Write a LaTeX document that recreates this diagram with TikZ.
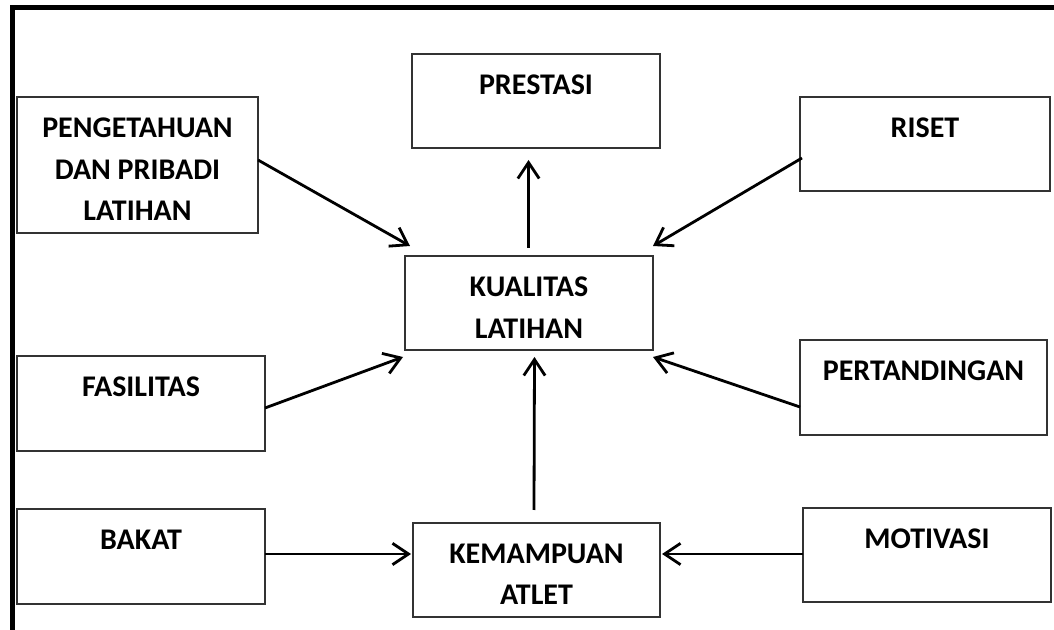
\documentclass[tikz,border=0pt]{standalone}
\usepackage{fontspec}
\setmainfont{Carlito}
\usetikzlibrary{arrows.meta,calc}
\begin{document}
\begin{tikzpicture}[x=0.75pt,y=-0.75pt,
  boxnode/.style={draw=black!80,line width=0.9pt,rectangle,inner sep=0pt,outer sep=0pt,anchor=north west},
  labeltext/.style={anchor=north,inner sep=0pt,outer sep=0pt,align=center,font=\fontsize{22.5}{31}\selectfont\bfseries},
  arr/.style={line width=2.1pt,-{Straight Barb[length=12pt,width=16pt,line width=2.1pt]}},
  frameline/.style={line width=3.4pt,line cap=rect}]
\useasboundingbox (0,0) rectangle (1054,630);
% frame
\coordinate (fbl) at (12.5,640);
\coordinate (ftl) at (12.5,7.5);
\coordinate (ftr) at (1060,7.5);
\draw[frameline] (fbl) -- (ftl) -- (ftr);
% boxes
\node[boxnode,minimum width=0.75pt*241,minimum height=0.75pt*136] (peng) at (17,97) {};
\node[boxnode,minimum width=0.75pt*248,minimum height=0.75pt*94] (pres) at (412,54) {};
\node[boxnode,minimum width=0.75pt*250,minimum height=0.75pt*94] (riset) at (800,97) {};
\node[boxnode,minimum width=0.75pt*248,minimum height=0.75pt*94] (kual) at (405,256) {};
\node[boxnode,minimum width=0.75pt*248,minimum height=0.75pt*95] (fas) at (17,356) {};
\node[boxnode,minimum width=0.75pt*247,minimum height=0.75pt*95] (pert) at (800,340) {};
\node[boxnode,minimum width=0.75pt*248,minimum height=0.75pt*95] (bakat) at (17,509) {};
\node[boxnode,minimum width=0.75pt*247,minimum height=0.75pt*94] (kem) at (413,523) {};
\node[boxnode,minimum width=0.75pt*248,minimum height=0.75pt*94] (mot) at (803,508) {};
% texts
\node[labeltext] (tpeng) at ($(peng.north)+(0,21)$) {PENGETAHUAN\\DAN PRIBADI\\LATIHAN};
\node[labeltext] (tpres) at ($(pres.north)+(0,21)$) {PRESTASI};
\node[labeltext] (triset) at ($(riset.north)+(0,21)$) {RISET};
\node[labeltext] (tkual) at ($(kual.north)+(0,21)$) {KUALITAS\\LATIHAN};
\node[labeltext] (tfas) at ($(fas.north)+(0,21)$) {FASILITAS};
\node[labeltext] (tpert) at ($(pert.north)+(0,21)$) {PERTANDINGAN};
\node[labeltext] (tbakat) at ($(bakat.north)+(0,21)$) {BAKAT};
\node[labeltext] (tkem) at ($(kem.north)+(0,21)$) {KEMAMPUAN\\ATLET};
\node[labeltext] (tmot) at ($(mot.north)+(0,21)$) {MOTIVASI};
% arrows
\draw[arr] ($(peng.east)+(0,-5)$) -- ($(kual.north west)+(5,-10)$);
\draw[arr] ($(riset.west)+(2,14)$) -- ($(kual.north east)+(0,-10)$);
\draw[arr] ($(kual.north)+(-0.5,-8)$) -- ($(kual.north)+(-0.5,-96)$);
\draw[arr] ($(fas.east)+(0,4.5)$) -- ($(kual.south west)+(-2,7)$);
\draw[arr] ($(pert.west)+(0,19.5)$) -- ($(kual.south east)+(0,7)$);
\draw[arr] ($(kem.north)+(-2.5,-13)$) -- ($(kual.south)+(5.5,7)$);
\draw[arr] ($(bakat.east)+(0,-2.5)$) -- ($(kem.west)+(-2,-16)$);
\draw[arr] ($(mot.west)+(0,-1)$) -- ($(kem.east)+(2,-16)$);
\end{tikzpicture}
\end{document}
